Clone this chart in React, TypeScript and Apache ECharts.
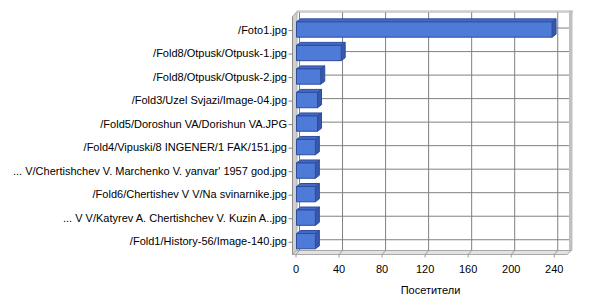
import React, { useEffect, useRef } from 'react';
import * as echarts from 'echarts';

const categories = [
  '/Foto1.jpg',
  '/Fold8/Otpusk/Otpusk-1.jpg',
  '/Fold8/Otpusk/Otpusk-2.jpg',
  '/Fold3/Uzel Svjazi/Image-04.jpg',
  '/Fold5/Doroshun VA/Dorishun VA.JPG',
  '/Fold4/Vipuski/8 INGENER/1 FAK/151.jpg',
  "... V/Chertishchev V. Marchenko V. yanvar' 1957 god.jpg",
  '/Fold6/Chertishev V V/Na svinarnike.jpg',
  '... V V/Katyrev A. Chertishchev V. Kuzin A..jpg',
  '/Fold1/History-56/Image-140.jpg',
];
const visitors = [238, 42, 23, 20, 20, 18, 18, 18, 18, 18];
const xTicks = [0, 40, 80, 120, 160, 200, 240];
const xMax = 250;
const axisTitle = 'Посетители';

const FONT = '"Liberation Sans", Arial, sans-serif';

export default function App() {
  const ref = useRef<HTMLDivElement>(null);
  useEffect(() => {
    if (!ref.current) return;
    const chart = echarts.init(ref.current, null, { renderer: 'svg' });
    const last = categories.length - 1;

    const frameRender = (params: any, api: any) => {
      const band = api.size([0, 1])[1];
      const x0 = api.coord([0, 0])[0];
      const xE = api.coord([xMax, 0])[0];
      const yTop = api.coord([0, 0])[1] - band / 2;
      const yBot = api.coord([0, last])[1] + band / 2;
      const fL = x0 - 3.5; // front-left edge of walls
      const bL = x0 + 1; // back-left edge
      const fB = yBot + 1.5; // floor front edge
      const bB = yBot - 2.5; // floor back edge
      const bT = yTop - 5.5; // back wall top
      const fT = yTop - 1;
      const bR = xE + 4;
      const children: any[] = [];
      // back wall
      children.push({ type: 'rect', shape: { x: bL, y: bT, width: bR - bL, height: bB - bT }, style: { fill: '#ffffff' } });
      // top edge of back wall
      children.push({ type: 'polygon', shape: { points: [[fL, fT], [bL, bT - 1.5], [bR + 3.5, bT - 1.5], [bR + 3.5, bT], [bL, bT], [fL, fT + 1.5]] }, style: { fill: '#d8d8d8', stroke: '#c0c0c0', lineWidth: 0.8 } });
      // right wall strip
      children.push({ type: 'rect', shape: { x: bR, y: bT - 1.5, width: 3.5, height: bB - bT + 1.5 }, style: { fill: '#c0c0c0' } });
      // left wall
      children.push({ type: 'polygon', shape: { points: [[fL, fT], [bL, bT], [bL, bB], [fL, fB]] }, style: { fill: '#d0d0d0', stroke: '#b0b0b0', lineWidth: 1 } });
      // floor
      children.push({ type: 'polygon', shape: { points: [[fL, fB], [bL, bB], [bR + 2.5, bB], [xE + 2, fB]] }, style: { fill: '#e2e2e2', stroke: '#a8a8a8', lineWidth: 1 } });
      // vertical gridlines on back wall and floor
      xTicks.forEach((v) => {
        const x = api.coord([v, 0])[0];
        children.push({ type: 'line', shape: { x1: x + 3.5, y1: bT, x2: x + 3.5, y2: bB }, style: { stroke: '#808080', lineWidth: 1 } });
        children.push({ type: 'polyline', shape: { points: [[x + 3.5, bB], [x, fB], [x, fB + 3]] }, style: { stroke: '#9a9a9a', lineWidth: 1, fill: null } });
      });
      // horizontal gridlines + left ticks
      categories.forEach((_, i) => {
        const y = api.coord([0, i])[1];
        children.push({ type: 'line', shape: { x1: bL, y1: y - 1.5, x2: bR, y2: y - 1.5 }, style: { stroke: '#808080', lineWidth: 1 } });
        children.push({ type: 'line', shape: { x1: fL - 4, y1: y + 1, x2: fL, y2: y + 1 }, style: { stroke: '#808080', lineWidth: 1 } });
      });
      // left axis line
      children.push({ type: 'line', shape: { x1: fL, y1: fT, x2: fL, y2: fB }, style: { stroke: '#8c8c8c', lineWidth: 1 } });
      return { type: 'group', children };
    };

    const barRender = (params: any, api: any) => {
      const v = api.value(0);
      const i = api.value(1);
      const p0 = api.coord([0, i]);
      const p1 = api.coord([v, i]);
      const xs = p0[0] + 0.5;
      const xe = p1[0];
      const yt = p1[1] - 7.7;
      const yb = p1[1] + 7.6;
      const dx = 4;
      const dy = -3;
      const stroke = '#2d4d9c';
      return {
        type: 'group',
        children: [
          { type: 'polygon', shape: { points: [[xs, yt], [xs + dx, yt + dy], [xe + dx, yt + dy], [xe, yt]] }, style: { fill: '#4469c9', stroke, lineWidth: 1 } },
          { type: 'polygon', shape: { points: [[xe, yt], [xe + dx, yt + dy], [xe + dx, yb + dy], [xe, yb]] }, style: { fill: '#3858ab', stroke, lineWidth: 1 } },
          { type: 'rect', shape: { x: xs, y: yt, width: xe - xs, height: yb - yt }, style: { fill: '#4f7bd8', stroke, lineWidth: 1 } },
        ],
      };
    };

    chart.setOption({
      animation: false,
      grid: { left: 296, right: 35, top: 17.8, bottom: 43.6, containLabel: false },
      xAxis: {
        type: 'value',
        min: 0,
        max: xMax,
        interval: 40,
        axisLine: { show: false },
        axisTick: { show: false },
        splitLine: { show: false },
        axisLabel: {
          margin: 10,
          color: '#000',
          fontSize: 11,
          fontFamily: FONT,
          formatter: (v: number) => (xTicks.includes(v) ? String(v) : ''),
        },
        name: axisTitle,
        nameLocation: 'middle',
        nameGap: 31,
        nameTextStyle: { color: '#000', fontSize: 11, fontFamily: FONT },
      },
      yAxis: {
        type: 'category',
        inverse: true,
        data: categories,
        axisLine: { show: false },
        axisTick: { show: false },
        splitLine: { show: false },
        axisLabel: { margin: 9, color: '#000', fontSize: 11, fontFamily: FONT },
      },
      series: [
        {
          type: 'custom',
          name: 'frame',
          silent: true,
          z: 1,
          renderItem: frameRender,
          data: [[0, 0]],
          encode: { x: 0, y: 1 },
        },
        {
          type: 'custom',
          name: 'Посетители',
          z: 2,
          renderItem: barRender,
          data: visitors.map((v, i) => [v, i]),
          encode: { x: 0, y: 1 },
        },
      ],
    });
    return () => chart.dispose();
  }, []);
  return <div ref={ref} style={{ position: 'absolute', left: 0, top: 0, width: 600, height: 300, background: '#fff' }} />;
}
